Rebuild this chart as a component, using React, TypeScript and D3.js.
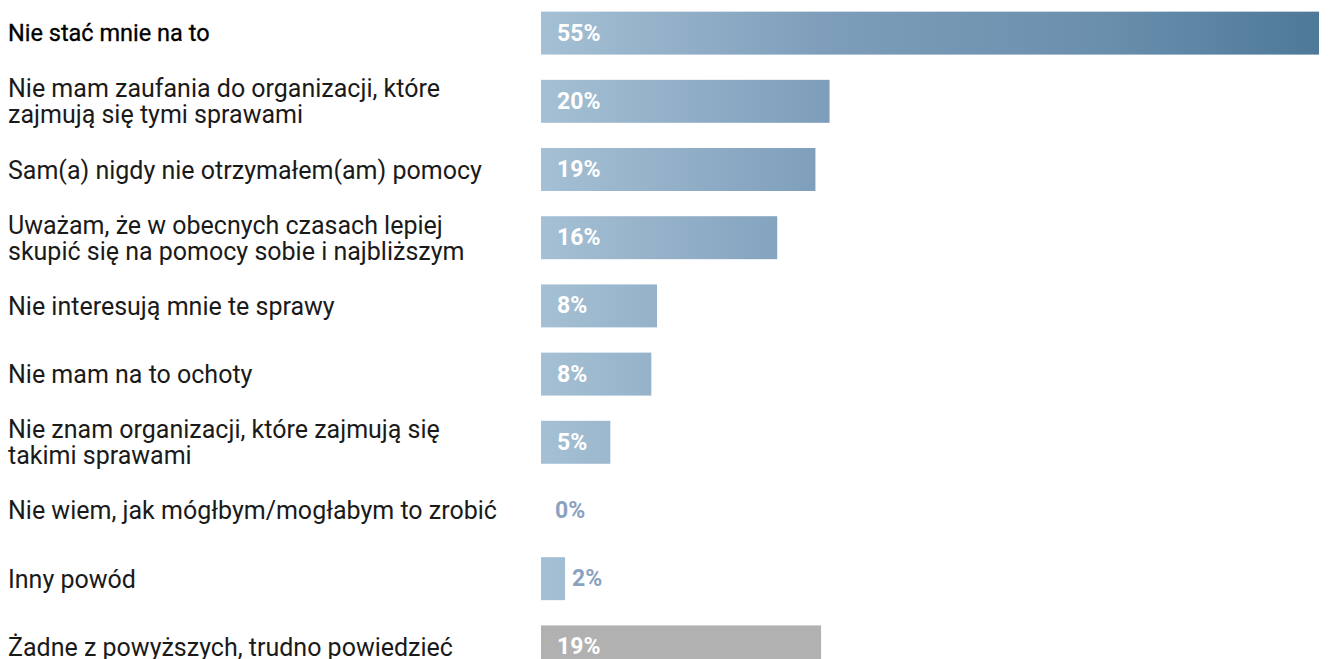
import React from "react";
import * as d3 from "d3";

const categories: string[][] = [
  ["Nie stać mnie na to"],
  ["Nie mam zaufania do organizacji, które", "zajmują się tymi sprawami"],
  ["Sam(a) nigdy nie otrzymałem(am) pomocy"],
  ["Uważam, że w obecnych czasach lepiej", "skupić się na pomocy sobie i najbliższym"],
  ["Nie interesują mnie te sprawy"],
  ["Nie mam na to ochoty"],
  ["Nie znam organizacji, które zajmują się", "takimi sprawami"],
  ["Nie wiem, jak mógłbym/mogłabym to zrobić"],
  ["Inny powód"],
  ["Żadne z powyższych, trudno powiedzieć"],
];
const values: number[] = [55, 20.4, 19.4, 16.7, 8.2, 7.8, 4.9, 0, 1.7, 19.8];
const valueLabels: string[] = ["55%", "20%", "19%", "16%", "8%", "8%", "5%", "0%", "2%", "19%"];
const greyFlags: boolean[] = [false, false, false, false, false, false, false, false, false, true];
const highlighted: boolean[] = [true, false, false, false, false, false, false, false, false, false];

const W = 1332;
const H = 659;
const x0 = 541;
const x1 = 1319;

export default function App() {
  const x = d3.scaleLinear().domain([0, 55]).range([x0, x1]);
  const y = d3
    .scaleBand<number>()
    .domain(d3.range(categories.length))
    .range([-2, 682])
    .paddingInner(0.37)
    .paddingOuter(0.2);
  const bh = y.bandwidth();
  return (
    <svg
      width={W}
      height={H}
      style={{ position: "absolute", left: 0, top: 0 }}
      viewBox={`0 0 ${W} ${H}`}
    >
      <defs>
        <linearGradient id="barGrad" gradientUnits="userSpaceOnUse" x1={x0} x2={x1} y1={0} y2={0}>
          <stop offset="0%" stopColor="#a5c0d4" />
          <stop offset="37%" stopColor="#7d9dba" />
          <stop offset="72%" stopColor="#6a8fad" />
          <stop offset="100%" stopColor="#4e7999" />
        </linearGradient>
      </defs>
      {categories.map((lines, i) => {
        const top = y(i) as number;
        const cy = top + bh / 2;
        const v = values[i];
        const w = x(v) - x0;
        const inside = w > 40;
        const lh = 26;
        return (
          <g key={i}>
            <text
              x={8}
              y={cy - ((lines.length - 1) * lh) / 2}
              fontFamily="Roboto, sans-serif"
              fontSize={highlighted[i] ? 23.5 : 25}
              fontWeight={400}
              fill={highlighted[i] ? "#000000" : "#1a1a1a"}
              stroke={highlighted[i] ? "#000000" : "none"}
              strokeWidth={highlighted[i] ? 0.3 : 0}
              dominantBaseline="central"
            >
              {lines.map((l, j) => (
                <tspan key={j} x={8} dy={j === 0 ? 0 : lh}>
                  {l}
                </tspan>
              ))}
            </text>
            {v > 0 && (
              <rect
                x={x0}
                y={top}
                width={w}
                height={bh}
                fill={greyFlags[i] ? "#b1b1b1" : "url(#barGrad)"}
              />
            )}
            <text
              x={inside ? x0 + 16 : x(v) + (v > 0 ? 7 : 14)}
              y={cy}
              fontFamily="Roboto, sans-serif"
              fontWeight={700}
              fontSize={23}
              fill={inside ? "#ffffff" : "#8aa2c0"}
              dominantBaseline="central"
            >
              {valueLabels[i]}
            </text>
          </g>
        );
      })}
    </svg>
  );
}
